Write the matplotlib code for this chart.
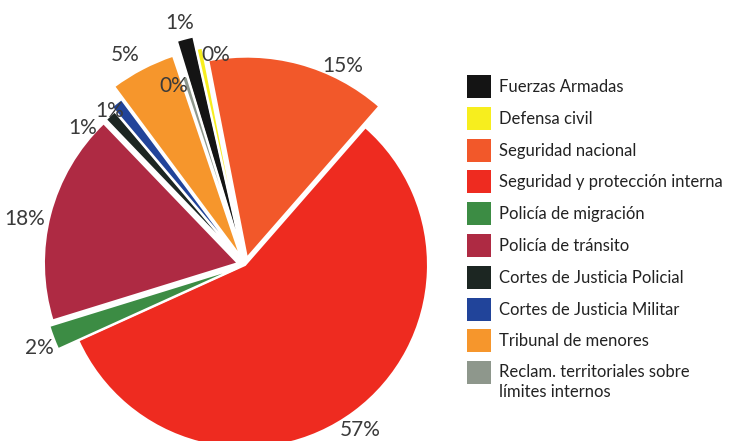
import matplotlib
matplotlib.use("Agg")
import matplotlib.pyplot as plt
from matplotlib.patches import Rectangle
import numpy as np

plt.rcParams["font.family"] = ["Lato", "DejaVu Sans"]

# budget shares (%), clockwise from the top
categories = [
    "Fuerzas Armadas",
    "Defensa civil",
    "Seguridad nacional",
    "Seguridad y protección interna",
    "Policía de migración",
    "Policía de tránsito",
    "Cortes de Justicia Policial",
    "Cortes de Justicia Militar",
    "Tribunal de menores",
    "Reclam. territoriales sobre\nlímites internos",
]
shares = [1.2, 0.45, 14.5, 56.8, 2.0, 17.6, 1.0, 1.0, 5.0, 0.45]
pct_labels = ["1%", "0%", "15%", "57%", "2%", "18%", "1%", "1%", "5%", "0%"]

colors = ["#141414", "#f7ee1e", "#f2582a", "#ee2b20", "#3c8c44",
          "#ae2a43", "#1c2622", "#21449a", "#f6962c", "#8e978c"]

# styling per slice
radii = [1.23, 1.16, 1.10, 1.0, 1.08, 1.06, 1.05, 1.08, 1.16, 1.03]
explode = [0.05, 0.05, 0.04, 0.0, 0.04, 0.04, 0.05, 0.05, 0.05, 0.05]
label_dist = [1.37, 1.16, 1.21, 1.10, 1.21, 1.23, 1.16, 1.12, 1.32, 1.05]
label_shift = [0.2, -4.0, -11.2, -1.7, 1.2, 2.7, 7.9, 3.0, 2.2, 3.8]

W, H = 733, 441
cx, cy = 245, 265   # pie centre in pixels (from top-left)
R = 183.0           # pie radius in pixels

fig = plt.figure(figsize=(W / 100, H / 100), dpi=100)
ax = fig.add_axes([0, 0, 1, 1])

wedges, _ = ax.pie(shares, colors=colors, startangle=107, counterclock=False,
                   explode=explode,
                   wedgeprops=dict(edgecolor="white", linewidth=1.5))
for w, r in zip(wedges, radii):
    w.set_radius(r)

for w, lab, d, s in zip(wedges, pct_labels, label_dist, label_shift):
    ang = np.deg2rad((w.theta1 + w.theta2) / 2 + s)
    ax.text(d * np.cos(ang), d * np.sin(ang), lab, ha="center", va="center",
            fontsize=15, color="#3a3a3a")

ax.set_xlim(-cx / R, (W - cx) / R)
ax.set_ylim(-(H - cy) / R, cy / R)
ax.set_aspect("auto")
ax.axis("off")

# legend drawn in pixel coordinates so the two-line entry lines up like the original
lax = fig.add_axes([0, 0, 1, 1])
lax.set_xlim(0, W)
lax.set_ylim(H, 0)
lax.axis("off")
top, pitch = 75, 31.8
for i, (name, c) in enumerate(zip(categories, colors)):
    y = top + i * pitch
    lax.add_patch(Rectangle((467, y), 24, 23, facecolor=c, edgecolor="none"))
    if "\n" in name:
        lax.text(499, y + 3, name, ha="left", va="top", fontsize=12,
                 color="#222222", linespacing=1.3)
    else:
        lax.text(499, y + 12, name, ha="left", va="center", fontsize=12,
                 color="#222222")

fig.savefig("out.png", dpi=100, facecolor="white")
